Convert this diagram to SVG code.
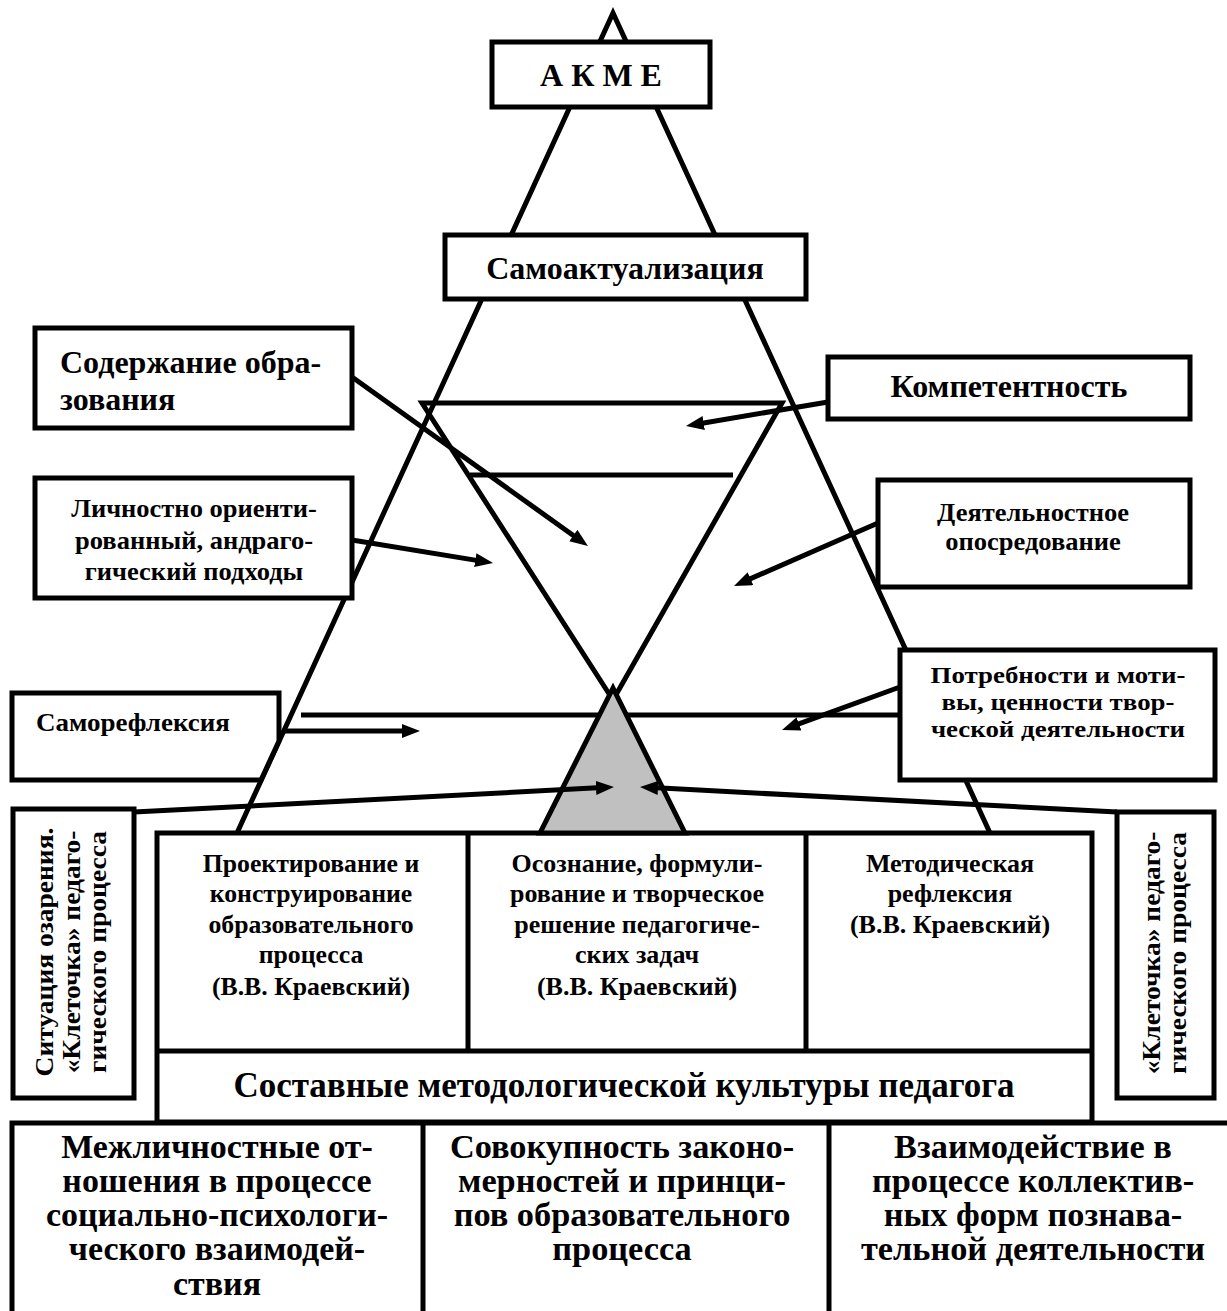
<svg xmlns="http://www.w3.org/2000/svg" width="1227" height="1311" viewBox="0 0 1227 1311">
<defs>
<style>
.ln{stroke:#000;stroke-width:5;fill:none;stroke-linejoin:miter}
.bx{stroke:#000;stroke-width:5;fill:#fff}
.t{font-family:"Liberation Serif","Times New Roman",serif;font-weight:bold;fill:#000}
.c{text-anchor:middle}
.s{font-size:25px}
.m{font-size:32px}
.b{font-size:33px}
.ar{stroke:#000;stroke-width:5;fill:none;marker-end:url(#ah)}
</style>
<marker id="ah" markerUnits="userSpaceOnUse" markerWidth="20" markerHeight="16" refX="6" refY="7" orient="auto" viewBox="0 0 20 16">
<path d="M0,0 L18,7 L0,14 z" fill="#000"/>
</marker>
</defs>
<rect width="1227" height="1311" fill="#fff"/>

<g id="pyramid">
<path class="ln" d="M237,833 L613,13 L990,833"/>
<path class="ln" d="M613,700 L422,403 L782,403 L613,700"/>
<line class="ln" x1="470" y1="475" x2="733" y2="475"/>
<line class="ln" x1="301" y1="715" x2="900" y2="715"/>
</g>

<g id="akme">
<rect class="bx" x="492" y="42" width="218" height="65"/>
<text class="t c m" x="601" y="86">А К М Е</text>
</g>

<g id="samoakt">
<rect class="bx" x="445" y="235" width="361" height="64"/>
<text class="t c m" x="625" y="279">Самоактуализация</text>
</g>

<g id="soderzhanie">
<rect class="bx" x="35" y="328" width="317" height="100"/>
<text class="t m" x="60" y="373">Содержание обра-</text>
<text class="t m" x="60" y="410">зования</text>
</g>

<g id="lichnostno">
<rect class="bx" x="35" y="478" width="317" height="120"/>
<g transform="translate(194,0) scale(1.06,1)">
<text class="t c s" x="0" y="517">Личностно ориенти-</text>
<text class="t c s" x="0" y="549">рованный, андраго-</text>
<text class="t c s" x="0" y="580">гический подходы</text>
</g>
</g>

<g id="kompetentnost">
<rect class="bx" x="828" y="357" width="362" height="62"/>
<text class="t c m" x="1009" y="397">Компетентность</text>
</g>

<g id="deyatelnostnoe">
<rect class="bx" x="878" y="480" width="312" height="107"/>
<g transform="translate(1033,0) scale(1.06,1)">
<text class="t c s" x="0" y="521">Деятельностное</text>
<text class="t c s" x="0" y="550">опосредование</text>
</g>
</g>

<g id="potrebnosti">
<rect class="bx" x="900" y="650" width="315" height="130"/>
<g transform="translate(1058,0) scale(1.12,1)">
<text class="t c" x="0" y="683" font-size="24">Потребности и моти-</text>
<text class="t c" x="0" y="710" font-size="24">вы, ценности  твор-</text>
<text class="t c" x="0" y="737" font-size="24">ческой  деятельности</text>
</g>
</g>

<g id="samorefleksiya">
<path class="bx" d="M12,693 H279 V741 L261,780 H12 Z"/>
<g transform="translate(36,0) scale(1.08,1)">
<text class="t s" x="0" y="731">Саморефлексия</text>
</g>
</g>

<g id="situatsiya">
<rect class="bx" x="13" y="809" width="121" height="289"/>
<g transform="translate(0,952) rotate(-90) scale(1.1,1)">
<text class="t c s" x="0" y="53">Ситуация озарения.</text>
<text class="t c s" x="0" y="80">«Клеточка» педаго-</text>
<text class="t c s" x="0" y="106">гического процесса</text>
</g>
</g>

<g id="kletochka">
<rect class="bx" x="1117" y="812" width="97" height="286"/>
<g transform="translate(0,953) rotate(-90) scale(1.1,1)">
<text class="t c s" x="0" y="1160">«Клеточка» педаго-</text>
<text class="t c s" x="0" y="1186">гического процесса</text>
</g>
</g>

<g id="sostavnye">
<rect class="bx" x="157" y="833" width="935" height="289"/>
<line class="ln" x1="468" y1="833" x2="468" y2="1051"/>
<line class="ln" x1="806" y1="833" x2="806" y2="1051"/>
<line class="ln" x1="157" y1="1051" x2="1092" y2="1051"/>
<text class="t c" x="624" y="1097" font-size="35">Составные методологической культуры педагога</text>
</g>

<g id="proektirovanie" transform="translate(311,0) scale(1.03,1)">
<text class="t c s" x="0" y="872">Проектирование и</text>
<text class="t c s" x="0" y="902">конструирование</text>
<text class="t c s" x="0" y="933">образовательного</text>
<text class="t c s" x="0" y="963">процесса</text>
<text class="t c s" x="0" y="995">(В.В. Краевский)</text>
</g>

<g id="osoznanie" transform="translate(637,0) scale(1.04,1)">
<text class="t c s" x="0" y="872">Осознание, формули-</text>
<text class="t c s" x="0" y="902">рование и творческое</text>
<text class="t c s" x="0" y="933">решение педагогиче-</text>
<text class="t c s" x="0" y="963">ских задач</text>
<text class="t c s" x="0" y="995">(В.В. Краевский)</text>
</g>

<g id="metodicheskaya" transform="translate(950,0) scale(1.04,1)">
<text class="t c s" x="0" y="872">Методическая</text>
<text class="t c s" x="0" y="902">рефлексия</text>
<text class="t c s" x="0" y="933">(В.В. Краевский)</text>
</g>

<g id="bottom-row">
<rect class="bx" x="12" y="1123" width="1230" height="210"/>
<line class="ln" x1="423" y1="1123" x2="423" y2="1311"/>
<line class="ln" x1="829" y1="1123" x2="829" y2="1311"/>
</g>

<g id="mezhlichnostnye" transform="translate(217,0) scale(1.03,1)">
<text class="t c b" x="0" y="1158">Межличностные от-</text>
<text class="t c b" x="0" y="1192">ношения в процессе</text>
<text class="t c b" x="0" y="1226">социально-психологи-</text>
<text class="t c b" x="0" y="1260">ческого взаимодей-</text>
<text class="t c b" x="0" y="1295">ствия</text>
</g>

<g id="sovokupnost" transform="translate(622,0) scale(1.04,1)">
<text class="t c b" x="0" y="1158">Совокупность законо-</text>
<text class="t c b" x="0" y="1192">мерностей и принци-</text>
<text class="t c b" x="0" y="1226">пов образовательного</text>
<text class="t c b" x="0" y="1260">процесса</text>
</g>

<g id="vzaimodeystvie" transform="translate(1033,0) scale(1.04,1)">
<text class="t c b" x="0" y="1158">Взаимодействие в</text>
<text class="t c b" x="0" y="1192">процессе коллектив-</text>
<text class="t c b" x="0" y="1226">ных форм познава-</text>
<text class="t c b" x="0" y="1260">тельной деятельности</text>
</g>

<g id="kernel">
<polygon points="613,688 540,833 685,833" fill="#c0c0c0" stroke="#000" stroke-width="5"/>
</g>

<g id="connectors">
<line class="ar" x1="352" y1="377" x2="578.2" y2="539"/>
<line class="ar" x1="352" y1="540" x2="481.2" y2="561.1"/>
<line class="ar" x1="828" y1="402" x2="697.8" y2="424"/>
<line class="ar" x1="878" y1="523" x2="745" y2="581.1"/>
<line class="ar" x1="900" y1="687" x2="793.3" y2="725.9"/>
<line class="ar" x1="283" y1="731" x2="408" y2="731"/>
<line class="ar" x1="134" y1="812" x2="602" y2="787.6"/>
<line class="ar" x1="1117" y1="812" x2="652" y2="787.6"/>
</g>
</svg>
